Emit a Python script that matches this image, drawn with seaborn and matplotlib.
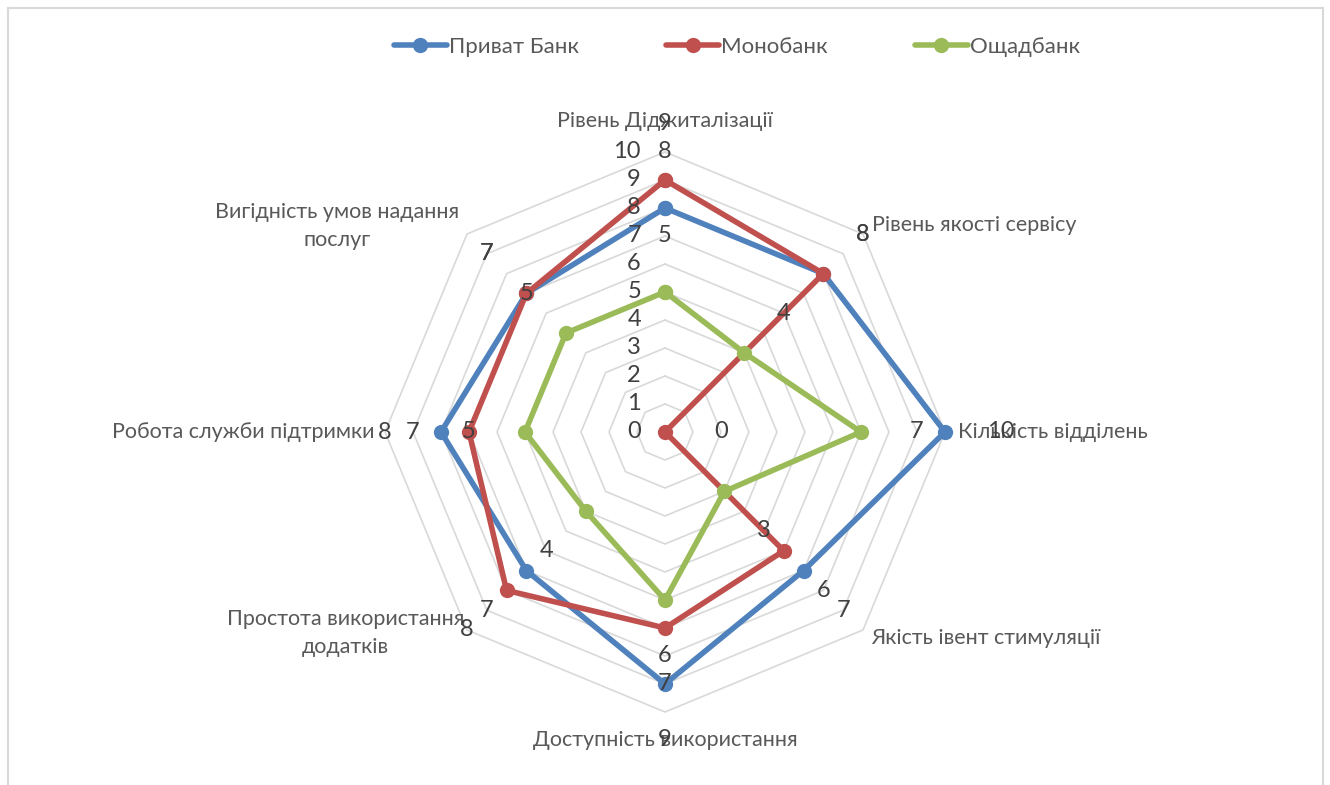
import numpy as np
import pandas as pd
import seaborn as sns
import matplotlib.pyplot as plt
from matplotlib.lines import Line2D
from matplotlib.transforms import ScaledTranslation

sns.set_style("white")
plt.rcParams['font.family'] = ['Lato', 'Open Sans', 'DejaVu Sans']

categories = ['Рівень Діджиталізації', 'Рівень якості сервісу', 'Кількість відділень',
              'Якість івент стимуляції', 'Доступність використання',
              'Простота використання\nдодатків', 'Робота служби підтримки',
              'Вигідність умов надання\nпослуг']
banks = ['Приват Банк', 'Монобанк', 'Ощадбанк']
privat = [8, 8, 10, 7, 9, 7, 8, 7]
mono = [9, 8, 0, 6, 7, 8, 7, 7]
oshchad = [5, 4, 7, 3, 6, 4, 5, 5]
r_ticks = list(range(0, 11))
colors = ['#4F81BD', '#C0504D', '#9BBB59']

n = len(categories)
theta = np.linspace(0, 2 * np.pi, n, endpoint=False)

rows = []
for bank, vals in zip(banks, [privat, mono, oshchad]):
    for i in range(n + 1):
        rows.append({'theta': np.append(theta, 2 * np.pi)[i], 'value': vals[i % n],
                     'bank': bank})
df = pd.DataFrame(rows)

fig = plt.figure(figsize=(13.3, 7.85), dpi=100)
# centre at (665, 432) px, radius 280 px
ax = fig.add_axes([385 / 1330, (785 - 432 - 280) / 785, 560 / 1330, 560 / 785], polar=True)
ax.set_theta_offset(np.pi / 2)
ax.set_theta_direction(-1)
ax.set_ylim(0, 10)
ax.set_xticks([])
ax.set_yticks([])
ax.spines['polar'].set_visible(False)
ax.set_facecolor('none')

# octagon grid
ring_theta = np.append(theta, 2 * np.pi)
for k in r_ticks[1:]:
    ax.plot(ring_theta, [k] * (n + 1), color='#d9d9d9', lw=1.2, zorder=1, clip_on=False)

sns.lineplot(data=df, x='theta', y='value', hue='bank', palette=colors, sort=False,
             estimator=None, units='bank', marker='o', markersize=11, markeredgewidth=0,
             linewidth=4, ax=ax, legend=False, zorder=3, clip_on=False)
for l in ax.lines:
    l.set_clip_on(False)
    l.set_solid_joinstyle('round')

txt_col = '#404040'
num_fs = 17
# radial tick labels, left of the vertical axis
shift = ScaledTranslation(-0.24, 0, fig.dpi_scale_trans)
for k in r_ticks:
    ax.text(0, k, str(k), transform=ax.transData + shift, ha='right', va='center',
            fontsize=num_fs, color=txt_col)

# data labels (offset outward by 2 units, as in the source chart)
for vals in [privat, mono, oshchad]:
    for t, v in zip(theta, vals):
        ax.text(t, v + 2, str(v), ha='center', va='center', fontsize=num_fs,
                color=txt_col, zorder=5)

# category labels
lab_col = '#595959'
lab_pos = [(0, 11.1, 'center'), (np.pi / 4, 10.45, 'left'),
           (np.pi / 2, 10.45, 'left'), (3 * np.pi / 4, 10.4, 'left'),
           (np.pi, 11.0, 'center'), (5 * np.pi / 4, 10.15, 'right'),
           (3 * np.pi / 2, 10.36, 'right'), (7 * np.pi / 4, 10.4, 'right')]
for (t, r, ha), name in zip(lab_pos, categories):
    ax.text(t, r, name, ha=ha, va='center', fontsize=15.5, color=lab_col,
            multialignment='center', linespacing=1.45)

handles = [Line2D([], [], color=c, lw=4, marker='o', markersize=11, markeredgewidth=0)
           for c in colors]
fig.legend(handles, banks, loc='center', bbox_to_anchor=(737 / 1330, 1 - 47 / 785),
           ncol=3, frameon=False, fontsize=16, handlelength=2.4, handletextpad=0.1,
           columnspacing=3.9, labelcolor=lab_col)

# chart border
for xs, ys in [([8, 1323], [8, 8]), ([8, 8], [8, 790]), ([1323, 1323], [8, 790])]:
    fig.add_artist(Line2D([x / 1330 for x in xs], [1 - y / 785 for y in ys],
                          color='#d9d9d9', lw=1.5))

fig.savefig('out.png', dpi=100)
